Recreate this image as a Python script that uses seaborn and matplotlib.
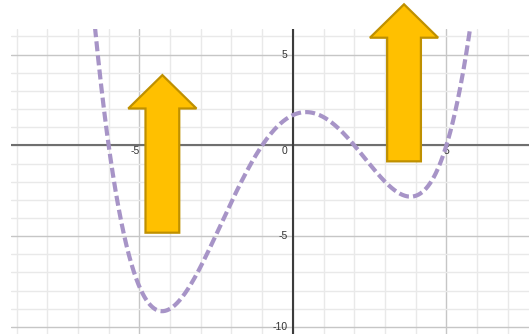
import numpy as np
import pandas as pd
import matplotlib
matplotlib.use("Agg")
import matplotlib.pyplot as plt
from matplotlib.patches import FancyArrow
import seaborn as sns

# Quartic y = k (x - r1)(x - r2)(x - r3)(x - r4)
roots = [-6.0, -1.0, 2.0, 5.0]
scale = 1.0 / 36.0
x_domain = [-6.7, 5.9]

# Upward arrows: centre x, tail y, tip y
arrow_x = [-4.25, 3.62]
arrow_tail = [-4.81, -0.88]
arrow_tip = [3.87, 7.77]

x_ticks = [-5, 0, 5]
y_ticks = [5, -5, -10]

xs = np.linspace(x_domain[0], x_domain[1], 800)
ys = scale * np.prod([xs - r for r in roots], axis=0)
curve = pd.DataFrame({"x": xs, "y": ys})

sns.set_style("white")
plt.rcParams["font.family"] = ["Liberation Sans", "DejaVu Sans"]

fig = plt.figure(figsize=(5.29, 3.34), dpi=100)
ax = fig.add_axes([11 / 529, 0, 518 / 529, 305 / 334])
ax.set_xlim(-9.18, 7.69)
ax.set_ylim(-10.39, 6.41)
for s in ax.spines.values():
    s.set_visible(False)
ax.set_xticks([])
ax.set_yticks([])

# grid: minor every unit, major every five
for gx in range(-9, 8):
    major = gx % 5 == 0
    ax.axvline(gx, color="#c6c6c6" if major else "#e9e9e9",
               lw=1.0, zorder=0)
for gy in range(-10, 7):
    major = gy % 5 == 0
    ax.axhline(gy, color="#c6c6c6" if major else "#e9e9e9",
               lw=1.0, zorder=0)

# axes through the origin
ax.axhline(0, color="#6f6f6f", lw=1.5, zorder=1)
ax.axvline(0, color="#3c3c3c", lw=1.5, zorder=1)

# tick labels
lab = dict(fontsize=7.5, color="#333333", zorder=2)
for t in x_ticks:
    if t == 0:
        ax.text(-0.28, -0.31, "0", ha="center", va="center", **lab)
    elif t < 0:
        ax.text(t - 0.13, -0.31, str(t), ha="center", va="center", **lab)
    else:
        ax.text(t, -0.31, str(t), ha="center", va="center", **lab)
for t in y_ticks:
    ax.text(-0.17, t, str(t), ha="right", va="center", **lab)

# dashed curve
sns.lineplot(data=curve, x="x", y="y", ax=ax, color="#a794c7",
             lw=3.0, sort=False, zorder=3)
line = ax.lines[-1]
line.set_dashes((2.4, 1.0))
line.set_dash_capstyle("butt")
ax.set_xlabel("")
ax.set_ylabel("")

# yellow arrows
for cx, y0, y1 in zip(arrow_x, arrow_tail, arrow_tip):
    arr = FancyArrow(cx, y0, 0, y1 - y0, width=1.1, head_width=2.22,
                     head_length=1.84, length_includes_head=True,
                     facecolor="#ffc000", edgecolor="#bf9000", lw=1.6,
                     joinstyle="miter", clip_on=False, zorder=5)
    ax.add_patch(arr)

fig.savefig("out.png", dpi=100)
